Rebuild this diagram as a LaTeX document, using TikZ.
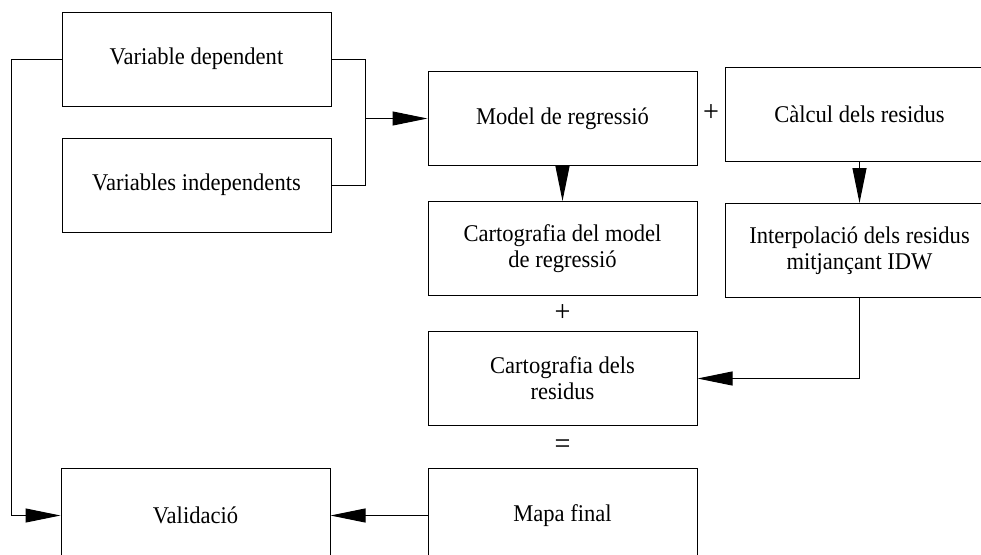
\documentclass[tikz,border=0pt]{standalone}
\usepackage{fontspec}
\setmainfont[FakeStretch=0.94]{Liberation Serif}
\usepackage{tikz}
\usetikzlibrary{positioning, arrows.meta, calc}

\begin{document}
\begin{tikzpicture}[x=1pt, y=-1pt, node distance=35pt,
		box/.style={draw, line width=1pt, minimum width=269pt, minimum height=94pt, align=center, font=\fontsize{24}{26}\selectfont},
		sign/.style={font=\fontsize{30}{32}\selectfont},
		arr/.style={-{Triangle[length=35pt,width=14pt]}, line width=1pt}]
					\useasboundingbox (0,0) rectangle (981,554);
					\clip (0,0) rectangle (981,554);
					
					\node[box] (vdep) at (196.5,59) {Variable dependent};
					\node[box, below=31pt of vdep] (vind) {Variables independents};
					\node[box] (model) at (562.5,118.5) {Model de regressió};
					\node[box, right=27pt of model, yshift=4pt] (calc) {Càlcul dels residus};
					\node[box, below=of model] (cmod) {Cartografia del model\\de regressió};
					\node[box, below=41pt of calc] (interp) {Interpolació dels residus\\mitjançant IDW};
					\node[box, below=of cmod] (cres) {Cartografia dels\\residus};
					\node[box, below=42pt of cres] (mapa) {Mapa final};
					\node[box, left=97pt of mapa] (valid) {Validació};
					
					\node[sign] (plus1) at ($(model.east)!0.5!(calc.west)+(0,-3)$) {+};
					\node[sign] (plus2) at ($(cmod.south)!0.5!(cres.north)$) {+};
					\node[sign] (equal) at ($(cres.south)!0.5!(mapa.north)$) {=};
					
					\coordinate (join) at ($(model.west)+(-62,0)$);
					\draw[line width=1pt] (vdep.east) -| (join);
					\draw[line width=1pt] (vind.east) -| (join);
					\draw[arr] (join) -- (model.west);
					\draw[arr] (vdep.west) -- ++(-50,0) |- (valid.west);
					\draw[arr] (model.south) -- (cmod.north);
					\draw[arr] (calc.south) -- (interp.north);
					\draw[arr] (interp.south) |- (cres.east);
					\draw[arr] (mapa.west) -- (valid.east);
				\end{tikzpicture}
\end{document}
